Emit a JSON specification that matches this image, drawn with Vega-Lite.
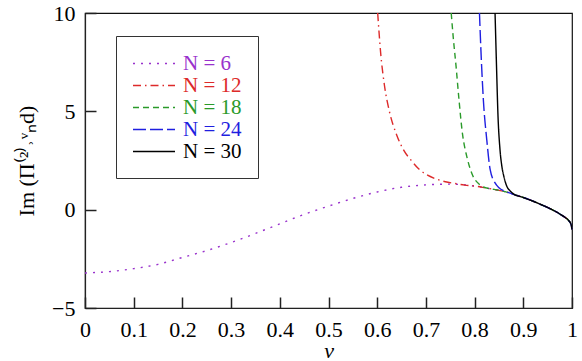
{
  "$schema": "https://vega.github.io/schema/vega-lite/v6.json",
  "width": 487,
  "height": 295,
  "autosize": {"type": "none"},
  "padding": {"left": 85, "top": 13, "right": 10, "bottom": 53},
  "background": "white",
  "config": {
    "view": {"stroke": "#111111", "strokeWidth": 1.2},
    "axis": {"zindex": 1}
  },
  "data": {"values": [
    {"N": "N = 6", "v": 0, "y": -3.22},
    {"N": "N = 6", "v": 0.05, "y": -3.15},
    {"N": "N = 6", "v": 0.1, "y": -3.0},
    {"N": "N = 6", "v": 0.15, "y": -2.78},
    {"N": "N = 6", "v": 0.2, "y": -2.43},
    {"N": "N = 6", "v": 0.25, "y": -2.08},
    {"N": "N = 6", "v": 0.3, "y": -1.67},
    {"N": "N = 6", "v": 0.35, "y": -1.21},
    {"N": "N = 6", "v": 0.4, "y": -0.72},
    {"N": "N = 6", "v": 0.45, "y": -0.24},
    {"N": "N = 6", "v": 0.5, "y": 0.18},
    {"N": "N = 6", "v": 0.55, "y": 0.57},
    {"N": "N = 6", "v": 0.6, "y": 0.9},
    {"N": "N = 6", "v": 0.65, "y": 1.14},
    {"N": "N = 6", "v": 0.7, "y": 1.26},
    {"N": "N = 6", "v": 0.75, "y": 1.3},
    {"N": "N = 6", "v": 0.8, "y": 1.2},
    {"N": "N = 6", "v": 0.82, "y": 1.12},
    {"N": "N = 6", "v": 0.84, "y": 1.03},
    {"N": "N = 6", "v": 0.86, "y": 0.93},
    {"N": "N = 6", "v": 0.88, "y": 0.78},
    {"N": "N = 6", "v": 0.9, "y": 0.62},
    {"N": "N = 6", "v": 0.92, "y": 0.43},
    {"N": "N = 6", "v": 0.94, "y": 0.22},
    {"N": "N = 6", "v": 0.96, "y": -0.01},
    {"N": "N = 6", "v": 0.975, "y": -0.22},
    {"N": "N = 6", "v": 0.985, "y": -0.38},
    {"N": "N = 6", "v": 0.993, "y": -0.55},
    {"N": "N = 6", "v": 0.998, "y": -0.75},
    {"N": "N = 6", "v": 1.0, "y": -1.0},

    {"N": "N = 12", "v": 0.601, "y": 10},
    {"N": "N = 12", "v": 0.607, "y": 8.0},
    {"N": "N = 12", "v": 0.615, "y": 6.3},
    {"N": "N = 12", "v": 0.625, "y": 5.0},
    {"N": "N = 12", "v": 0.64, "y": 3.8},
    {"N": "N = 12", "v": 0.655, "y": 3.0},
    {"N": "N = 12", "v": 0.67, "y": 2.5},
    {"N": "N = 12", "v": 0.685, "y": 2.08},
    {"N": "N = 12", "v": 0.7, "y": 1.8},
    {"N": "N = 12", "v": 0.72, "y": 1.57},
    {"N": "N = 12", "v": 0.74, "y": 1.42},
    {"N": "N = 12", "v": 0.76, "y": 1.33},
    {"N": "N = 12", "v": 0.78, "y": 1.25},
    {"N": "N = 12", "v": 0.8, "y": 1.2},
    {"N": "N = 12", "v": 0.82, "y": 1.12},
    {"N": "N = 12", "v": 0.84, "y": 1.03},
    {"N": "N = 12", "v": 0.86, "y": 0.93},
    {"N": "N = 12", "v": 0.88, "y": 0.78},
    {"N": "N = 12", "v": 0.9, "y": 0.62},
    {"N": "N = 12", "v": 0.92, "y": 0.43},
    {"N": "N = 12", "v": 0.94, "y": 0.22},
    {"N": "N = 12", "v": 0.96, "y": -0.01},
    {"N": "N = 12", "v": 0.975, "y": -0.22},
    {"N": "N = 12", "v": 0.985, "y": -0.38},
    {"N": "N = 12", "v": 0.993, "y": -0.55},
    {"N": "N = 12", "v": 0.998, "y": -0.75},
    {"N": "N = 12", "v": 1.0, "y": -1.0},

    {"N": "N = 18", "v": 0.752, "y": 10},
    {"N": "N = 18", "v": 0.756, "y": 8.8},
    {"N": "N = 18", "v": 0.762, "y": 7.27},
    {"N": "N = 18", "v": 0.768, "y": 5.58},
    {"N": "N = 18", "v": 0.775, "y": 3.88},
    {"N": "N = 18", "v": 0.784, "y": 2.7},
    {"N": "N = 18", "v": 0.794, "y": 1.86},
    {"N": "N = 18", "v": 0.811, "y": 1.26},
    {"N": "N = 18", "v": 0.825, "y": 1.1},
    {"N": "N = 18", "v": 0.84, "y": 1.03},
    {"N": "N = 18", "v": 0.86, "y": 0.93},
    {"N": "N = 18", "v": 0.88, "y": 0.78},
    {"N": "N = 18", "v": 0.9, "y": 0.62},
    {"N": "N = 18", "v": 0.92, "y": 0.43},
    {"N": "N = 18", "v": 0.94, "y": 0.22},
    {"N": "N = 18", "v": 0.96, "y": -0.01},
    {"N": "N = 18", "v": 0.975, "y": -0.22},
    {"N": "N = 18", "v": 0.985, "y": -0.38},
    {"N": "N = 18", "v": 0.993, "y": -0.55},
    {"N": "N = 18", "v": 0.998, "y": -0.75},
    {"N": "N = 18", "v": 1.0, "y": -1.0},

    {"N": "N = 24", "v": 0.81, "y": 10},
    {"N": "N = 24", "v": 0.813, "y": 8.1},
    {"N": "N = 24", "v": 0.818, "y": 5.58},
    {"N": "N = 24", "v": 0.825, "y": 3.55},
    {"N": "N = 24", "v": 0.832, "y": 2.03},
    {"N": "N = 24", "v": 0.842, "y": 1.36},
    {"N": "N = 24", "v": 0.85, "y": 1.12},
    {"N": "N = 24", "v": 0.86, "y": 0.96},
    {"N": "N = 24", "v": 0.87, "y": 0.87},
    {"N": "N = 24", "v": 0.88, "y": 0.78},
    {"N": "N = 24", "v": 0.9, "y": 0.62},
    {"N": "N = 24", "v": 0.92, "y": 0.43},
    {"N": "N = 24", "v": 0.94, "y": 0.22},
    {"N": "N = 24", "v": 0.96, "y": -0.01},
    {"N": "N = 24", "v": 0.975, "y": -0.22},
    {"N": "N = 24", "v": 0.985, "y": -0.38},
    {"N": "N = 24", "v": 0.993, "y": -0.55},
    {"N": "N = 24", "v": 0.998, "y": -0.75},
    {"N": "N = 24", "v": 1.0, "y": -1.0},

    {"N": "N = 30", "v": 0.842, "y": 10},
    {"N": "N = 30", "v": 0.845, "y": 7.3},
    {"N": "N = 30", "v": 0.848, "y": 4.8},
    {"N": "N = 30", "v": 0.852, "y": 3.1},
    {"N": "N = 30", "v": 0.856, "y": 2.2},
    {"N": "N = 30", "v": 0.86, "y": 1.7},
    {"N": "N = 30", "v": 0.866, "y": 1.2},
    {"N": "N = 30", "v": 0.873, "y": 0.95},
    {"N": "N = 30", "v": 0.88, "y": 0.8},
    {"N": "N = 30", "v": 0.9, "y": 0.62},
    {"N": "N = 30", "v": 0.92, "y": 0.43},
    {"N": "N = 30", "v": 0.94, "y": 0.22},
    {"N": "N = 30", "v": 0.96, "y": -0.01},
    {"N": "N = 30", "v": 0.975, "y": -0.22},
    {"N": "N = 30", "v": 0.985, "y": -0.38},
    {"N": "N = 30", "v": 0.993, "y": -0.55},
    {"N": "N = 30", "v": 0.998, "y": -0.75},
    {"N": "N = 30", "v": 1.0, "y": -1.0}
  ]},
  "mark": {"type": "line", "interpolate": "monotone", "strokeWidth": 1.4},
  "encoding": {
    "x": {
      "field": "v", "type": "quantitative",
      "scale": {"domain": [0, 1], "nice": false, "zero": false},
      "axis": {
        "orient": "bottom", "ticks": true,
        "values": [0, 0.1, 0.2, 0.3, 0.4, 0.5, 0.6, 0.7, 0.8, 0.9, 1],
        "format": "~g",
        "tickSize": -11,
        "tickColor": "#222222", "tickWidth": 1.5,
        "domainColor": "#222222", "domainWidth": 1.2, "grid": false,
        "labelPadding": 22,
        "labelFont": "Liberation Serif", "labelFontSize": 22, "labelColor": "black",
        "labelFlush": false, "labelOverlap": false, "labelBound": false,
        "title": "v", "titleFont": "Liberation Serif", "titleFontSize": 22, "titleFontStyle": "italic",
        "titleFontWeight": "normal", "titleColor": "black",
        "titleBaseline": "alphabetic", "titleY": 49
      }
    },
    "y": {
      "field": "y", "type": "quantitative",
      "scale": {"domain": [-5, 10], "nice": false, "zero": false},
      "axis": {
        "orient": "left", "ticks": true,
        "values": [-5, 0, 5, 10],
        "format": "d",
        "tickSize": -11,
        "tickColor": "#222222", "tickWidth": 1.5,
        "domainColor": "#222222", "domainWidth": 1.2, "grid": false,
        "labelPadding": 21,
        "labelFont": "Liberation Serif", "labelFontSize": 22, "labelColor": "black",
        "labelFlush": false, "labelOverlap": false, "labelBound": false,
        "title": "Im (Π⁽²⁾˒ᵛₙd)", "titleFont": "Liberation Serif", "titleFontSize": 22,
        "titleFontWeight": "normal", "titleColor": "black",
        "titleBaseline": "alphabetic", "titleX": -52
      }
    },
    "color": {
      "field": "N", "type": "nominal",
      "scale": {"domain": ["N = 6", "N = 12", "N = 18", "N = 24", "N = 30"],
                "range": ["#9932cc", "#dd2a2a", "#2a9a2a", "#1f1fe0", "#000000"]},
      "legend": {
        "orient": "none", "legendX": 31, "legendY": 23, "title": null,
        "strokeColor": "#333333", "padding": 16, "rowPadding": 0,
        "symbolType": "M-1,0H3", "symbolSize": 441, "symbolStrokeWidth": 1.4,
        "labelFont": "Liberation Serif", "labelFontSize": 21, "labelOffset": 28,
        "fillColor": "white",
        "encode": {"labels": {"update": {"fill": {"scale": "color", "field": "value"}}}}
      }
    },
    "strokeDash": {
      "field": "N", "type": "nominal",
      "scale": {"domain": ["N = 6", "N = 12", "N = 18", "N = 24", "N = 30"],
                "range": [[2, 6], [8, 4, 1.5, 4], [6, 4], [13, 4], [1, 0]]}
    }
  }
}
